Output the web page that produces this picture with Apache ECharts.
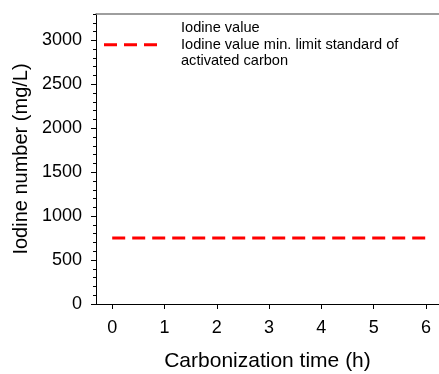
<!DOCTYPE html>
<html>
<head>
<meta charset="utf-8">
<script src="https://cdn.jsdelivr.net/npm/echarts@6/dist/echarts.min.js"></script>
<style>
  html, body { margin: 0; padding: 0; background: #fff; }
  #chart { width: 439px; height: 374px; }
</style>
</head>
<body>
<div id="chart"></div>
<script>
// Axis ticks
const xTicks = [0, 1, 2, 3, 4, 5, 6];
const yTicks = [0, 500, 1000, 1500, 2000, 2500, 3000];

// Measured iodine values (no points plotted)
const iodineTimes = [];
const iodineValues = [];

// Minimum iodine value required for activated carbon
const limitTimes = [0, 6];
const limitValues = [750, 750];

const seriesNames = ['Iodine value', 'Iodine value min. limit standard of\nactivated carbon'];

const font = 'Liberation Sans, Arial, sans-serif';
const chart = echarts.init(document.getElementById('chart'), null, { renderer: 'canvas' });

const pairs = (xs, ys) => xs.map((x, i) => [x, ys[i]]);
const dashIcon = 'path://M0,0h13v3h-13z M20,0h13v3h-13z M40,0h13v3h-13z';

const legendBase = {
  orient: 'vertical', left: 104, padding: 0,
  itemWidth: 53, itemHeight: 3, selectedMode: false,
  textStyle: { fontFamily: font, fontSize: 14.6, lineHeight: 16.5, color: '#000', padding: [0, 0, 0, 19] }
};

chart.setOption({
  animation: false,
  backgroundColor: '#fff',
  textStyle: { fontFamily: font, color: '#000' },
  grid: { left: 96, top: 14, right: 0, bottom: 70, containLabel: false, outerBoundsMode: 'none' },
  legend: [
    Object.assign({}, legendBase, {
      top: 20,
      data: [{ name: seriesNames[0], icon: 'rect', itemStyle: { color: 'rgba(0,0,0,0)' } }]
    }),
    Object.assign({}, legendBase, {
      top: 20,
      // leading blank line keeps the icon level with the first text line
      formatter: name => '\n' + name,
      data: [{ name: seriesNames[1], icon: dashIcon, itemStyle: { color: '#ff0000' } }]
    })
  ],
  xAxis: [
    {
      type: 'value', position: 'bottom', min: -0.31, max: 6.25,
      name: 'Carbonization time (h)', nameLocation: 'middle', nameGap: 47,
      nameTextStyle: { fontFamily: font, fontSize: 21, lineHeight: 21, color: '#000' },
      axisLine: { show: true, onZero: false, lineStyle: { color: '#000', width: 1 } },
      axisTick: { show: true, inside: false, length: 5, customValues: xTicks, lineStyle: { color: '#000' } },
      axisLabel: { customValues: xTicks, margin: 15, fontFamily: font, fontSize: 18, lineHeight: 18, color: '#000', formatter: v => String(v) },
      splitLine: { show: false }
    },
    {
      type: 'value', position: 'top', min: -0.31, max: 6.25,
      axisLine: { show: true, onZero: false, lineStyle: { color: '#7f7f7f', width: 1.5 } },
      axisTick: { show: false }, axisLabel: { show: false }, splitLine: { show: false }
    }
  ],
  yAxis: [
    {
      type: 'value', position: 'left', min: 0, max: 3300,
      name: 'Iodine number (mg/L)', nameLocation: 'middle', nameGap: 64,
      nameTextStyle: { fontFamily: font, fontSize: 20, lineHeight: 20, color: '#000' },
      axisLine: { show: true, onZero: false, lineStyle: { color: '#000', width: 1 } },
      axisTick: { show: true, inside: false, length: 5, customValues: yTicks, lineStyle: { color: '#000' } },
      axisLabel: { customValues: yTicks, margin: 14, fontFamily: font, fontSize: 18, color: '#000', formatter: v => String(v) },
      splitLine: { show: false }
    },
    {
      // minor ticks every 100
      type: 'value', position: 'left', min: 0, max: 3300, interval: 100,
      axisLine: { show: false, onZero: false },
      axisTick: { show: true, inside: false, length: 3, lineStyle: { color: '#000' } },
      axisLabel: { show: false }, splitLine: { show: false }
    }
  ],
  series: [
    {
      name: seriesNames[0], type: 'line', xAxisIndex: 0, yAxisIndex: 0,
      data: pairs(iodineTimes, iodineValues),
      symbol: 'none',
      lineStyle: { color: 'rgba(0,0,0,0)', width: 0 },
      itemStyle: { color: 'rgba(0,0,0,0)' }
    },
    {
      name: seriesNames[1], type: 'line', xAxisIndex: 0, yAxisIndex: 0,
      data: pairs(limitTimes, limitValues),
      symbol: 'none',
      lineStyle: { color: '#ff0000', width: 3, type: [13, 7], cap: 'butt' },
      itemStyle: { color: '#ff0000' }
    }
  ]
});
</script>
</body>
</html>
